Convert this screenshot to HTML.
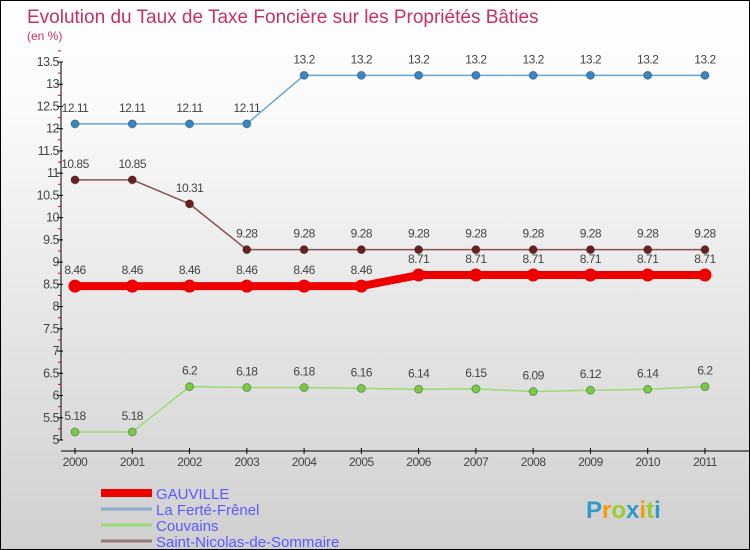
<!DOCTYPE html>
<html><head><meta charset="utf-8"><style>
body{margin:0;}
#wrap{position:relative;width:748px;height:548px;border:1px solid #000;background:linear-gradient(#fff,#fafafa 20%,#d0d0d0);font-family:"Liberation Sans",sans-serif;overflow:hidden}
</style></head><body>
<div id="wrap">
<svg id="chart" width="748" height="548"></svg>
</div>
<script>
const years=[2000,2001,2002,2003,2004,2005,2006,2007,2008,2009,2010,2011];
const gauville=[8.46,8.46,8.46,8.46,8.46,8.46,8.71,8.71,8.71,8.71,8.71,8.71];
const ferte=[12.11,12.11,12.11,12.11,13.2,13.2,13.2,13.2,13.2,13.2,13.2,13.2];
const couvains=[5.18,5.18,6.2,6.18,6.18,6.16,6.14,6.15,6.09,6.12,6.14,6.2];
const stnicolas=[10.85,10.85,10.31,9.28,9.28,9.28,9.28,9.28,9.28,9.28,9.28,9.28];
const yTicks=[5,5.5,6,6.5,7,7.5,8,8.5,9,9.5,10,10.5,11,11.5,12,12.5,13,13.5];
const NS="http://www.w3.org/2000/svg";
const svg=document.getElementById('chart');
const X=i=>74+i*57.27;
const Y=v=>439-(v-5)*44.47;
function el(t,a,p){const e=document.createElementNS(NS,t);for(const k in a)e.setAttribute(k,a[k]);(p||svg).appendChild(e);return e;}
function txt(x,y,s,a,p){const e=el('text',Object.assign({x:x,y:y},a),p);e.textContent=s;return e;}
let t=txt(26,22,'Evolution du Taux de Taxe Foncière sur les Propriétés Bâties',{fill:'#c83060','font-size':19});

t=txt(26,39,'(en %)',{fill:'#c83060','font-size':12});

let ax=el('g',{});
el('line',{x1:60,y1:Y(13.5),x2:60,y2:Y(5),stroke:'#000'},ax);
yTicks.forEach(v=>{el('line',{x1:56,x2:62,y1:Y(v),y2:Y(v),stroke:'#000'},ax);
 el('line',{x1:57,x2:60,y1:Y(v+0.25),y2:Y(v+0.25),stroke:'#e00'},ax);
 txt(58,Y(v)+4,String(v),{'text-anchor':'end','font-size':12.5,fill:'#444','letter-spacing':'-0.5'},ax);});
let xa=el('g',{});
el('line',{x1:60,y1:450,x2:748,y2:450,stroke:'#000'},xa);
years.forEach((y,i)=>{el('line',{x1:X(i),x2:X(i),y1:447,y2:453,stroke:'#000'},xa);
 txt(X(i),465,String(y),{'text-anchor':'middle','font-size':12,fill:'#444','letter-spacing':'-0.5'},xa);});
function series(data,name,color,dot,w,r){
 const g=el('g',{});
 el('polyline',{points:data.map((v,i)=>X(i)+','+Y(v)).join(' '),fill:'none',stroke:color,'stroke-width':w,'stroke-linejoin':'round'},g);
 data.forEach((v,i)=>{const c=el('circle',{cx:X(i),cy:Y(v),r:r,fill:dot,stroke:color=='#ee0000'?'#ee0000':'rgba(0,0,0,0.3)'},g);
  
  txt(X(i),Y(v)-12,String(v),{'text-anchor':'middle','font-size':12,fill:'#444','letter-spacing':'-0.5'},g);});
}
series(ferte,'la-ferte-frenel','#6aa6d6','#3a85c4',1.5,4);
series(stnicolas,'saint-nicolas','#8a5050','#6a2020',1.5,4);
series(couvains,'couvains','#99dd77','#77cc44',1.5,4);
series(gauville,'gauville','#ee0000','#ee0000',8,6);
const leg=[['GAUVILLE','#ee0000',8],['La Ferté-Frênel','#88aacc',3],['Couvains','#99dd77',3],['Saint-Nicolas-de-Sommaire','#997777',3]];
leg.forEach((l,i)=>{const g=el('g',{});
 const y=492+i*16;el('line',{x1:100,x2:151,y1:y,y2:y,stroke:l[1],'stroke-width':l[2]},g);
 txt(155,y+6,l[0],{'font-size':15,fill:'#5a5aff'},g);});
const lg=el('g',{});
const ln=txt(585,517,'',{'font-size':24,'font-weight':'bold'},lg);
[['P','#3399cc'],['r','#ff9900'],['o','#99cc33'],['x','#3399cc'],['i','#ff9900'],['t','#99cc33'],['i','#3399cc']].forEach(c=>{const s=el('tspan',{fill:c[1]},ln);s.textContent=c[0];});
</script>
</body></html>
